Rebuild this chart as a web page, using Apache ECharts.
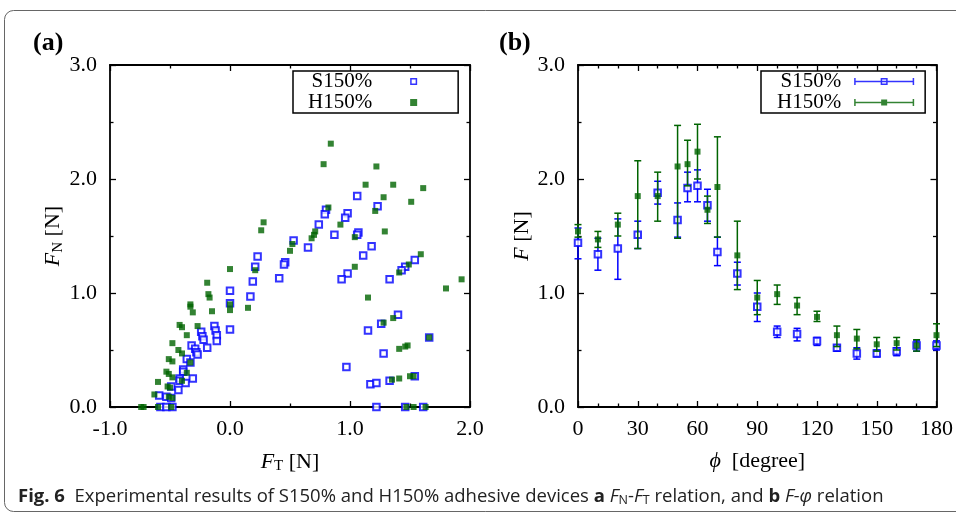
<!DOCTYPE html>
<html><head><meta charset="utf-8">
<script src="https://cdn.jsdelivr.net/npm/echarts@6/dist/echarts.min.js"></script>
<style>html,body{margin:0;padding:0;background:#fff}#c{width:956px;height:515px}</style>
</head><body><div id="c"></div>
<script>
// ---------- data: panel (a) F_N vs F_T ----------
const S150_FT = [0.53,0.23,0.21,0.46,0.45,0.19,0.41,0.00,0.17,0.00,-0.13,-0.24,-0.12,-0.23,-0.11,-0.22,-0.11,0.00,-0.32,-0.29,-0.28,-0.27,-0.19,-0.36,-0.33,-0.39,-0.39,-0.31,-0.42,-0.42,-0.37,-0.49,-0.43,-0.59,-0.53,-0.49,-0.58,-0.53,-0.48,1.06,1.23,0.80,0.79,0.98,0.96,0.74,0.87,1.07,1.06,0.65,1.18,1.11,1.54,1.46,1.43,0.98,0.93,1.33,1.40,1.26,1.15,1.28,0.97,1.17,1.22,1.33,1.54,1.66,1.22,1.46,1.61];
const S150_FN = [1.46,1.32,1.23,1.27,1.25,1.10,1.13,1.02,0.97,0.91,0.71,0.66,0.67,0.62,0.63,0.59,0.58,0.68,0.54,0.51,0.48,0.46,0.52,0.42,0.39,0.33,0.31,0.25,0.25,0.23,0.21,0.18,0.15,0.10,0.09,0.08,0.00,0.00,0.00,1.85,1.76,1.73,1.69,1.70,1.66,1.60,1.51,1.53,1.51,1.40,1.41,1.33,1.29,1.23,1.20,1.17,1.12,1.12,0.81,0.73,0.67,0.47,0.35,0.20,0.21,0.23,0.27,0.61,0.00,0.00,0.00];
const H150_FT = [0.28,0.26,0.52,0.50,0.00,0.21,-0.19,-0.18,-0.17,-0.33,-0.33,-0.31,-0.15,0.00,0.00,0.15,-0.42,-0.40,-0.27,-0.36,-0.48,-0.43,-0.40,-0.51,-0.48,-0.33,-0.53,-0.51,-0.36,-0.48,-0.40,-0.60,-0.52,-0.50,-0.63,-0.51,-0.48,-0.74,-0.72,-0.60,-0.49,0.84,0.78,1.22,1.13,1.36,1.61,1.28,1.51,0.82,1.21,0.92,1.29,0.71,0.70,0.68,1.04,1.04,1.59,1.49,1.41,1.93,1.80,1.15,1.36,1.28,1.66,1.41,1.46,1.48,1.35,1.41,1.50,1.53,1.47,1.53,1.63];
const H150_FN = [1.62,1.55,1.43,1.37,1.21,1.20,1.09,0.99,0.96,0.90,0.88,0.83,0.84,0.90,0.85,0.87,0.72,0.70,0.71,0.63,0.56,0.50,0.47,0.42,0.40,0.39,0.31,0.29,0.30,0.26,0.23,0.22,0.18,0.17,0.11,0.09,0.08,0.00,0.00,0.00,0.00,2.31,2.13,2.11,1.95,1.95,1.92,1.84,1.80,1.75,1.72,1.60,1.54,1.54,1.51,1.48,1.49,1.23,1.34,1.25,1.18,1.12,1.04,0.96,0.78,0.74,0.61,0.51,0.53,0.54,0.24,0.25,0.27,0.27,0.00,0.00,0.00];

// ---------- data: panel (b) F vs phi ----------
const PHI     = [0,10,20,30,40,50,55,60,65,70,80,90,100,110,120,130,140,150,160,170,180];
const S150_F  = [1.44,1.34,1.39,1.51,1.88,1.64,1.92,1.94,1.77,1.36,1.17,0.88,0.66,0.64,0.58,0.52,0.47,0.47,0.49,0.54,0.54];
const S150_LO = [1.30,1.20,1.12,1.39,1.78,1.49,1.80,1.80,1.63,1.24,1.07,0.75,0.61,0.58,0.54,0.49,0.42,0.44,0.45,0.49,0.50];
const S150_HI = [1.57,1.48,1.65,1.63,1.98,1.79,2.06,2.08,1.91,1.49,1.27,1.00,0.71,0.69,0.61,0.54,0.52,0.50,0.52,0.58,0.58];
const H150_F  = [1.54,1.47,1.60,1.85,1.85,2.11,2.13,2.24,1.73,1.93,1.33,0.96,0.99,0.89,0.79,0.63,0.60,0.55,0.56,0.54,0.63];
const H150_LO = [1.49,1.40,1.50,1.39,1.63,1.48,1.94,2.00,1.61,1.49,1.03,0.81,0.90,0.81,0.75,0.53,0.51,0.49,0.50,0.49,0.53];
const H150_HI = [1.60,1.54,1.70,2.16,2.06,2.47,2.34,2.48,1.85,2.37,1.63,1.11,1.07,0.96,0.84,0.71,0.68,0.61,0.61,0.59,0.73];

const SERIES_NAMES = ['S150%','H150%'];
const PANEL_LABELS = ['(a)','(b)'];

// ---------- styling ----------
const SERIF = 'Liberation Serif';
const SANS = 'Open Sans';
const FS = 22;
const BLUE = '#0000ff';
const GREEN = '#006400';

function richName() {
  return {
    fontFamily: SERIF, fontSize: FS, color: '#000',
    rich: {
      i: {fontFamily: SERIF, fontSize: FS, fontStyle: 'italic', color: '#000'},
      s: {fontFamily: SERIF, fontSize: 15, color: '#000', padding: [9,0,0,0]},
      n: {fontFamily: SERIF, fontSize: FS, color: '#000'}
    }
  };
}

function valAxis(o) {
  const base = {
    type: 'value', min: o.min, max: o.max, interval: o.interval,
    gridIndex: o.grid, position: o.position,
    axisLine: {show: true, onZero: false, lineStyle: {color: '#000', width: 1.8}},
    axisTick: {show: true, inside: true, length: 6, lineStyle: {color: '#000', width: 1.3}},
    minorTick: {show: true, splitNumber: o.minor, length: 3.5, lineStyle: {color: '#000', width: 1.3}},
    splitLine: {show: false}, minorSplitLine: {show: false},
    axisLabel: {show: !!o.labels, margin: o.margin || 12, fontFamily: SERIF, fontSize: FS, color: '#000', formatter: o.fmt, interval: 0},
  };
  if (o.name) {
    base.name = o.name; base.nameLocation = 'middle'; base.nameGap = o.nameGap;
    base.nameTextStyle = richName();
  }
  return base;
}

const fmt1 = v => v.toFixed(1);
const fmt0 = v => String(v);

function errSeries(lo, hi, color, z) {
  return {
    type: 'custom', xAxisIndex: 2, yAxisIndex: 2, z: z, clip: false, silent: true,
    data: PHI.map((p, i) => [p, lo[i], hi[i]]),
    encode: {x: 0, y: [1, 2]},
    renderItem: function (params, api) {
      const a = api.coord([api.value(0), api.value(1)]);
      const b = api.coord([api.value(0), api.value(2)]);
      const w = 3.5;
      const st = {stroke: color, lineWidth: 1.5};
      return {type: 'group', children: [
        {type: 'line', shape: {x1: a[0], y1: a[1], x2: b[0], y2: b[1]}, style: st},
        {type: 'line', shape: {x1: a[0] - w, y1: a[1], x2: a[0] + w, y2: a[1]}, style: st},
        {type: 'line', shape: {x1: b[0] - w, y1: b[1], x2: b[0] + w, y2: b[1]}, style: st}
      ]};
    }
  };
}

const ICON_SQ_OPEN = 'path://M0,0H7V7H0Z M1.5,1.5V5.5H5.5V1.5Z';
const ICON_SQ_FILL = 'path://M0,0H7V7H0Z';
const ICON_ERR_OPEN = 'path://M0,2.75H60V4.25H0Z M0,0H1.5V7H0Z M58.5,0H60V7H58.5Z M26.5,0H33.5V7H26.5Z M28,1.5V5.5H32V1.5Z';
const ICON_ERR_FILL = 'path://M0,2.75H60V4.25H0Z M0,0H1.5V7H0Z M58.5,0H60V7H58.5Z M27,0.5H33V6.5H27Z';

function legendText(padRight) {
  return {
    fontFamily: SERIF, fontSize: 21, color: '#000',
    rich: {t: {fontFamily: SERIF, fontSize: 21, color: '#000', lineHeight: 29, padding: [0, padRight, 0, 0]}}
  };
}

const capStyle = (extra) => Object.assign({fontFamily: SANS, fontSize: 18.5, fontWeight: 'normal', color: '#222'}, extra || {});

const option = {
  animation: false,
  backgroundColor: '#fff',
  textStyle: {fontFamily: SERIF},
  graphic: [{
    type: 'rect', silent: true,
    shape: {x: 4.5, y: 10.5, width: 1000, height: 501, r: 9},
    style: {fill: 'none', stroke: '#666', lineWidth: 1}
  }],
  title: [
    {text: PANEL_LABELS[0], left: 33, top: 30, padding: 0, textStyle: {fontFamily: SERIF, fontWeight: 'bold', fontSize: 26, color: '#000'}},
    {text: PANEL_LABELS[1], left: 499, top: 30, padding: 0, textStyle: {fontFamily: SERIF, fontWeight: 'bold', fontSize: 26, color: '#000'}},
    {
      text: '{b|Fig. 6}  {r|Experimental results of S150% and H150% adhesive devices }{b|a}{r| }{i|F}{s|N}{r|-}{i|F}{s|T}{r| relation, and }{b|b}{r| }{i|F-φ}{r| relation}',
      left: 18, top: 486, padding: 0,
      textStyle: capStyle({
        rich: {
          b: capStyle({fontWeight: 'bold'}),
          r: capStyle(),
          i: capStyle({fontStyle: 'italic'}),
          s: capStyle({fontSize: 12.5, padding: [8,0,0,0]})
        }
      })
    }
  ],
  grid: [
    {left: 110, top: 65, width: 360, height: 342, containLabel: false},
    {left: 578, top: 65, width: 360, height: 342, containLabel: false}
  ],
  xAxis: [
    valAxis({grid: 0, min: -1, max: 2, interval: 1, minor: 2, position: 'bottom', labels: true, fmt: fmt1, margin: 11,
             name: '{i|F}{s|T}{n| [N]}', nameGap: 43}),
    valAxis({grid: 0, min: -1, max: 2, interval: 1, minor: 2, position: 'top'}),
    valAxis({grid: 1, min: 0, max: 180, interval: 30, minor: 3, position: 'bottom', labels: true, fmt: fmt0, margin: 11,
             name: '{i|ϕ}{n|  [degree]}', nameGap: 43}),
    valAxis({grid: 1, min: 0, max: 180, interval: 30, minor: 3, position: 'top'})
  ],
  yAxis: [
    valAxis({grid: 0, min: 0, max: 3, interval: 1, minor: 2, position: 'left', labels: true, fmt: fmt1, margin: 13,
             name: '{i|F}{s|N}{n| [N]}', nameGap: 40}),
    valAxis({grid: 0, min: 0, max: 3, interval: 1, minor: 2, position: 'right'}),
    valAxis({grid: 1, min: 0, max: 3, interval: 1, minor: 2, position: 'left', labels: true, fmt: fmt1, margin: 13,
             name: '{i|F}{n| [N]}', nameGap: 44}),
    valAxis({grid: 1, min: 0, max: 3, interval: 1, minor: 2, position: 'right'})
  ],
  legend: [
    {
      left: 293, top: 71, orient: 'vertical', align: 'right', selectedMode: false,
      itemWidth: 7, itemHeight: 7, itemGap: 0, padding: [0, 41, 0, 15],
      borderColor: '#000', borderWidth: 1.5,
      itemStyle: {borderWidth: 0},
      formatter: '{t|{name}}', textStyle: legendText(33),
      data: [{name: SERIES_NAMES[0], icon: ICON_SQ_OPEN}, {name: SERIES_NAMES[1], icon: ICON_SQ_FILL}]
    },
    {
      left: 761, top: 71, orient: 'vertical', align: 'right', selectedMode: false,
      itemWidth: 60, itemHeight: 7, itemGap: 0, padding: [0, 11, 0, 16],
      borderColor: '#000', borderWidth: 1.5,
      itemStyle: {borderWidth: 0},
      formatter: '{t|{name}}', textStyle: legendText(8),
      data: [{name: SERIES_NAMES[0], icon: ICON_ERR_OPEN}, {name: SERIES_NAMES[1], icon: ICON_ERR_FILL}]
    }
  ],
  series: [
    {
      type: 'scatter', name: SERIES_NAMES[0], xAxisIndex: 0, yAxisIndex: 0, z: 2, clip: false,
      symbol: 'emptyRect', symbolSize: 6.5,
      itemStyle: {color: BLUE, borderColor: BLUE, borderWidth: 1.5},
      data: S150_FT.map((x, i) => [x, S150_FN[i]])
    },
    {
      type: 'scatter', name: SERIES_NAMES[1], xAxisIndex: 0, yAxisIndex: 0, z: 3, clip: false,
      symbol: 'rect', symbolSize: 6,
      itemStyle: {color: GREEN},
      data: H150_FT.map((x, i) => [x, H150_FN[i]])
    },
    errSeries(S150_LO, S150_HI, BLUE, 4),
    {
      type: 'scatter', name: SERIES_NAMES[0], xAxisIndex: 2, yAxisIndex: 2, z: 5, clip: false,
      symbol: 'emptyRect', symbolSize: 6.5,
      itemStyle: {color: BLUE, borderColor: BLUE, borderWidth: 1.5},
      data: PHI.map((p, i) => [p, S150_F[i]])
    },
    errSeries(H150_LO, H150_HI, GREEN, 6),
    {
      type: 'scatter', name: SERIES_NAMES[1], xAxisIndex: 2, yAxisIndex: 2, z: 7, clip: false,
      symbol: 'rect', symbolSize: 6,
      itemStyle: {color: GREEN},
      data: PHI.map((p, i) => [p, H150_F[i]])
    }
  ]
};

const chart = echarts.init(document.getElementById('c'), null, {renderer: 'canvas'});
chart.setOption(option);
</script>
</body></html>
